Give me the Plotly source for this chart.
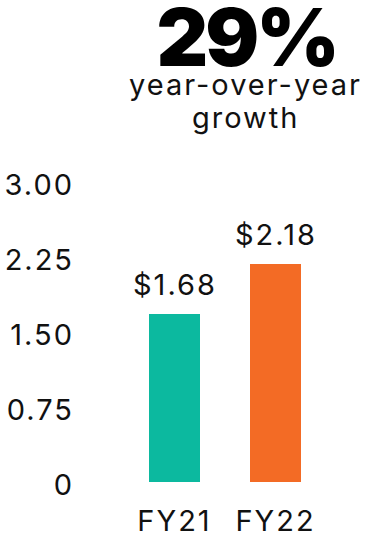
import plotly.graph_objects as go

categories = ["FY21", "FY22"]
values = [1.68, 2.18]
bar_colors = ["#0cb99f", "#f36b25"]
value_labels = ["$1.68", "$2.18"]
tick_vals = [0, 0.75, 1.5, 2.25, 3.0]
tick_text = ["0", "0.75", "1.50", "2.25", "3.00"]
headline = "29%"
subhead_1 = "year-over-year"
subhead_2 = "growth"

W, H = 366, 533
L, R, T, B = 124, 40, 182, 51
pw, ph = W - L - R, H - T - B

def px(x):
    return (x - L) / pw

def py(y):
    return (H - B - y) / ph

FONT = "Inter"
TXT = "#111111"

fig = go.Figure()
fig.add_trace(go.Bar(
    x=categories, y=values, marker=dict(color=bar_colors, line=dict(width=0)),
    hoverinfo="skip", showlegend=False,
))

annotations = []
for c, v, t in zip(categories, values, value_labels):
    annotations.append(dict(x=c, y=v, xref="x", yref="y", text=t, showarrow=False,
                            yanchor="bottom", yshift=10,
                            font=dict(family=FONT, size=29, color=TXT)))
annotations.append(dict(x=px(246), y=py(36), xref="paper", yref="paper", text=headline,
                        showarrow=False, xanchor="center", yanchor="middle",
                        font=dict(family=FONT, size=80, color="#000000", weight=900)))
annotations.append(dict(x=px(245), y=py(84), xref="paper", yref="paper", text=subhead_1,
                        showarrow=False, xanchor="center", yanchor="middle",
                        font=dict(family=FONT, size=29, color=TXT)))
annotations.append(dict(x=px(245), y=py(118), xref="paper", yref="paper", text=subhead_2,
                        showarrow=False, xanchor="center", yanchor="middle",
                        font=dict(family=FONT, size=29, color=TXT)))

fig.update_layout(
    width=W, height=H,
    margin=dict(l=L, r=R, t=T, b=B, pad=0),
    paper_bgcolor="white", plot_bgcolor="white",
    bargap=0.495,
    annotations=annotations,
    font=dict(family=FONT, size=29, color=TXT),
)
fig.update_xaxes(range=[-0.5, 1.5], showgrid=False, zeroline=False, showline=False,
                 ticks="", automargin=False, ticklabelstandoff=19,
                 tickfont=dict(family=FONT, size=29, color=TXT))
fig.update_yaxes(range=[0, 3], tickvals=tick_vals, ticktext=tick_text, showgrid=False,
                 zeroline=False, showline=False, ticks="", automargin=False,
                 ticklabelstandoff=49, ticklabelshift=3,
                 tickfont=dict(family=FONT, size=29, color=TXT))

post = (
    "document.body.style.margin='0';document.body.style.overflow='hidden';"
    "document.querySelectorAll('svg text').forEach(function(t){"
    "if(t.textContent==='%s'){t.style.letterSpacing='-3px';}"
    "else{t.style.letterSpacing='2px';}});" % headline
)
fig.write_html("out.html", config={"displayModeBar": False}, post_script=post)
